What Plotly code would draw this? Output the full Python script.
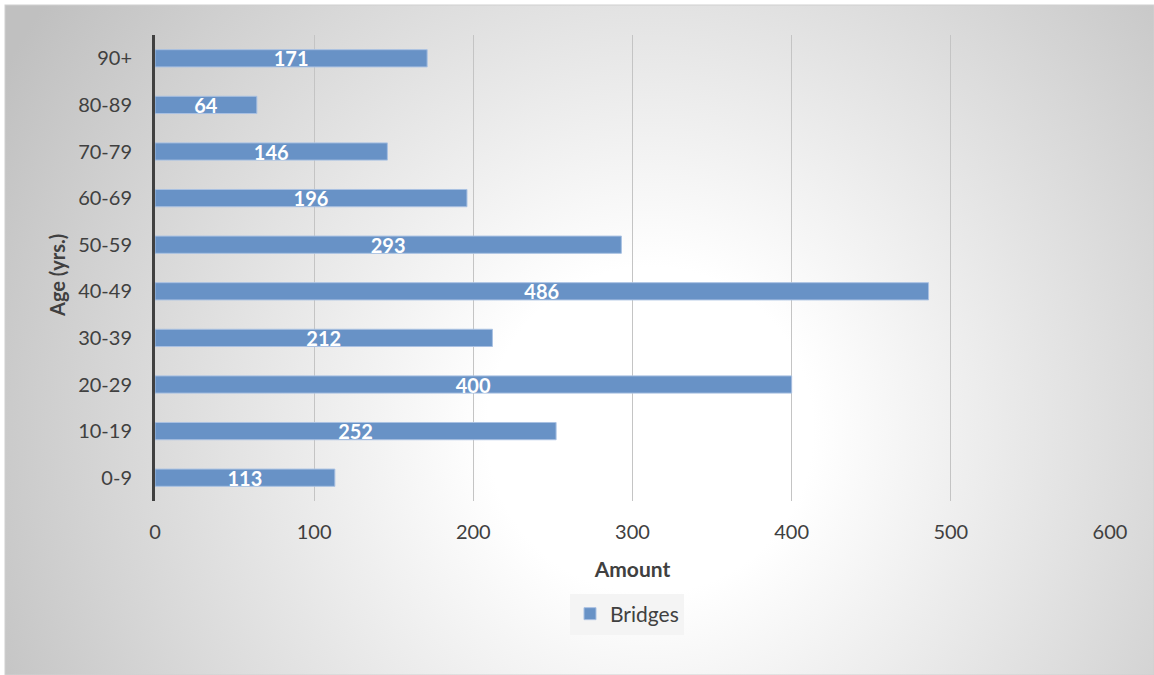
import base64
import plotly.graph_objects as go

categories = ["0-9", "10-19", "20-29", "30-39", "40-49", "50-59", "60-69", "70-79", "80-89", "90+"]
bridges = [113, 252, 400, 212, 486, 293, 196, 146, 64, 171]
x_ticks = [0, 100, 200, 300, 400, 500, 600]

W, H = 1154, 675
L, R, T, B = 155, 1110, 35, 501

svg = f'''<svg xmlns="http://www.w3.org/2000/svg" width="{W}" height="{H}" viewBox="0 0 {W} {H}">
<defs><radialGradient id="g" gradientUnits="userSpaceOnUse" cx="650" cy="430" r="740">
<stop offset="0" stop-color="#ffffff"/><stop offset="0.22" stop-color="#ffffff"/>
<stop offset="1" stop-color="#c0c0c0"/></radialGradient></defs>
<rect x="0" y="0" width="{W}" height="{H}" fill="#ffffff"/>
<rect x="5" y="5" width="{W-5}" height="{H-5}" fill="url(#g)" stroke="#d0d0d0" stroke-width="1"/>
</svg>'''
src = "data:image/svg+xml;base64," + base64.b64encode(svg.encode()).decode()

font = "Lato, 'Open Sans', sans-serif"

fig = go.Figure(go.Bar(
    y=categories, x=bridges, orientation="h", name="Bridges",
    marker=dict(color="#6892c6", line=dict(color="#a9c1e2", width=1)),
    width=0.37,
    text=[str(v) for v in bridges], textposition="inside", insidetextanchor="middle",
    textfont=dict(color="white", size=20, family=font, weight="bold"),
    textangle=0, cliponaxis=False,
))

pw, ph = R - L, B - T
fig.add_layout_image(dict(
    source=src, xref="paper", yref="paper",
    x=-L / pw, y=B / ph, sizex=W / pw, sizey=H / ph,
    xanchor="left", yanchor="top", sizing="stretch", layer="below",
))

fig.add_annotation(
    text="<b>Age (yrs.)</b>", textangle=-90, showarrow=False,
    xref="paper", yref="paper", x=(57 - L) / pw, y=(B - 276) / ph,
    xanchor="center", yanchor="middle",
    font=dict(size=20, color="#404040", family=font),
)

fig.update_layout(
    width=W, height=H,
    margin=dict(l=L, r=W - R, t=T, b=H - B, autoexpand=False),
    paper_bgcolor="white", plot_bgcolor="rgba(0,0,0,0)",
    font=dict(family=font, color="#404040", size=20),
    uniformtext=dict(minsize=20, mode="show"),
    xaxis=dict(range=[0, 600], tickvals=x_ticks, showgrid=True, gridcolor="#c4c4c4", gridwidth=1,
               zeroline=False, showline=False, ticks="", ticklabelstandoff=17,
               tickfont=dict(size=20, color="#404040"),
               title=dict(text="Amount", font=dict(size=21, weight="bold", color="#404040"), standoff=20)),
    yaxis=dict(range=[-0.5, 9.5], type="category", showline=True, linecolor="#404040", linewidth=3,
               showgrid=False, ticks="", ticklabelstandoff=16, tickfont=dict(size=20, color="#404040")),
    showlegend=True,
    legend=dict(orientation="h", x=(627 - L) / pw, xanchor="center", y=-(614 - B) / ph, yanchor="middle",
                bgcolor="#f4f4f4", font=dict(size=21, color="#404040"),
                itemwidth=30, traceorder="normal"),
)

fig.write_html("out.html", config={"displayModeBar": False},
               post_script="document.body.style.margin='0';")
